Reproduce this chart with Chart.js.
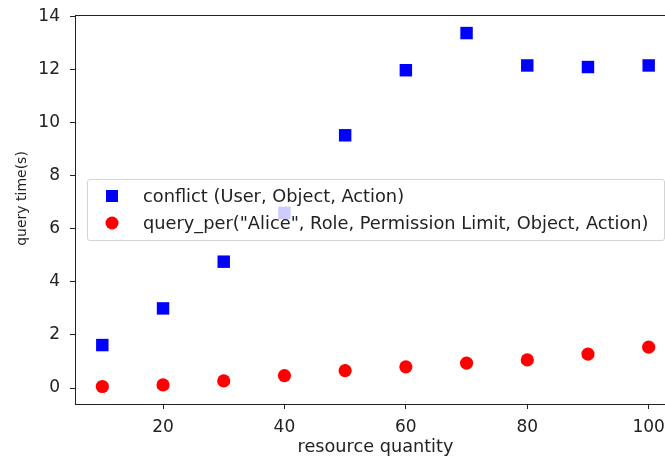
<!DOCTYPE html>
<html>
<head>
<meta charset="utf-8">
<script src="https://cdn.jsdelivr.net/npm/chart.js@4"></script>
<style>
  html, body { margin: 0; padding: 0; background: #fff; overflow: hidden; }
  #wrap { position: relative; width: 665px; height: 461px; overflow: hidden; }
  #legend {
    position: absolute; left: 87px; top: 179px; width: 578px; height: 62px;
    box-sizing: border-box; border: 1px solid #d4d4d4; border-radius: 3px;
    background: rgba(255, 255, 255, 0.8); padding-top: 2px;
    font-family: "DejaVu Sans", sans-serif; font-size: 17.8px; color: #222;
  }
  .row { position: relative; height: 27px; line-height: 27px; padding-left: 55px; white-space: nowrap; }
  .mark { position: absolute; top: 50%; left: 24px; transform: translate(-50%, -50%); }
</style>
</head>
<body>
<div id="wrap">
  <!-- wider than the window: the right spine falls outside the picture, as in the original -->
  <canvas id="chart" width="680" height="461"></canvas>
  <div id="legend"></div>
</div>
<script>
const quantities = [10, 20, 30, 40, 50, 60, 70, 80, 90, 100];
const conflictTimes = [1.62, 3.0, 4.76, 6.6, 9.52, 11.97, 13.37, 12.15, 12.09, 12.15];
const queryPerTimes = [0.06, 0.12, 0.27, 0.47, 0.66, 0.8, 0.94, 1.06, 1.28, 1.54];
const xTicks = [20, 40, 60, 80, 100];
const yTicks = [0, 2, 4, 6, 8, 10, 12, 14];

const labelConflict = "conflict (User, Object, Action)";
const labelQuery = "query_per(\"Alice\", Role, Permission Limit, Object, Action)";
const yTitle = "query time(s)";

const tickFont = { family: "DejaVu Sans", size: 17 };
const ink = "#222";

// spines round the plot area
const framePlugin = {
    id: "frame",
    afterDraw(chart) {
        const a = chart.chartArea;
        const ctx = chart.ctx;
        ctx.save();
        ctx.strokeStyle = ink;
        ctx.lineWidth = 1;
        ctx.strokeRect(Math.round(a.left) + 0.5, Math.round(a.top) + 0.5,
            Math.round(a.right - a.left), Math.round(a.bottom - a.top));
        ctx.restore();
    }
};

// y axis title, sits a little above the axis centre as in the original
const yTitlePlugin = {
    id: "ytitle",
    afterDraw(chart) {
        const a = chart.chartArea;
        const ctx = chart.ctx;
        ctx.save();
        ctx.translate(22, (a.top + a.bottom) / 2 - 11);
        ctx.rotate(-Math.PI / 2);
        ctx.font = "14px 'DejaVu Sans'";
        ctx.fillStyle = ink;
        ctx.textAlign = "center";
        ctx.textBaseline = "middle";
        ctx.fillText(yTitle, 0, 0);
        ctx.restore();
    }
};

// no automatic room for the end labels, the layout padding decides
const noPad = axis => {
    axis.paddingLeft = 0; axis.paddingRight = 0;
    axis.paddingTop = 0; axis.paddingBottom = 0;
};

const chart = new Chart(document.getElementById("chart"), {
    type: "scatter",
    data: {
        datasets: [
            {
                label: labelConflict,
                data: quantities.map((q, i) => ({ x: q, y: conflictTimes[i] })),
                pointStyle: "rect",
                pointRadius: 8.8,
                backgroundColor: "#0000ff",
                borderColor: "#0000ff",
                borderWidth: 0
            },
            {
                label: labelQuery,
                data: quantities.map((q, i) => ({ x: q, y: queryPerTimes[i] })),
                pointStyle: "circle",
                pointRadius: 6.6,
                backgroundColor: "#ff0000",
                borderColor: "#ff0000",
                borderWidth: 0
            }
        ]
    },
    options: {
        responsive: false,
        animation: false,
        events: [],
        layout: { autoPadding: false, padding: { top: 15, right: 4, left: 0, bottom: 0 } },
        plugins: {
            legend: { display: false },
            tooltip: { enabled: false }
        },
        scales: {
            x: {
                type: "linear",
                min: 5.5,
                max: 104.5,
                afterBuildTicks: axis => { axis.ticks = xTicks.map(v => ({ value: v })); },
                afterFit: axis => { axis.height = 57; noPad(axis); },
                border: { display: false },
                grid: { drawOnChartArea: false, drawTicks: true, tickLength: 5, color: ink, lineWidth: 1 },
                ticks: { font: tickFont, color: ink, padding: 8, maxRotation: 0 },
                title: {
                    display: true,
                    text: "resource quantity",
                    font: { family: "DejaVu Sans", size: 17.7, lineHeight: 1.2 },
                    color: ink,
                    padding: { top: 0, bottom: 3 }
                }
            },
            y: {
                type: "linear",
                min: -0.6,
                max: 14.05,
                afterBuildTicks: axis => { axis.ticks = yTicks.map(v => ({ value: v })); },
                afterFit: axis => { axis.width = 75; noPad(axis); },
                border: { display: false },
                grid: { drawOnChartArea: false, drawTicks: true, tickLength: 5, color: ink, lineWidth: 1 },
                ticks: { font: tickFont, color: ink, padding: 10 }
            }
        }
    },
    plugins: [framePlugin, yTitlePlugin]
});

// legend drawn as html on top of the plot, fed from the datasets
const legendEl = document.getElementById("legend");
chart.data.datasets.forEach(ds => {
    const row = document.createElement("div");
    row.className = "row";
    const mark = document.createElement("span");
    mark.className = "mark";
    const side = ds.pointStyle === "rect" ? 12 : 13;
    mark.style.width = side + "px";
    mark.style.height = side + "px";
    mark.style.background = ds.backgroundColor;
    if (ds.pointStyle === "circle") mark.style.borderRadius = "50%";
    row.appendChild(mark);
    row.appendChild(document.createTextNode(ds.label));
    legendEl.appendChild(row);
});
</script>
</body>
</html>
